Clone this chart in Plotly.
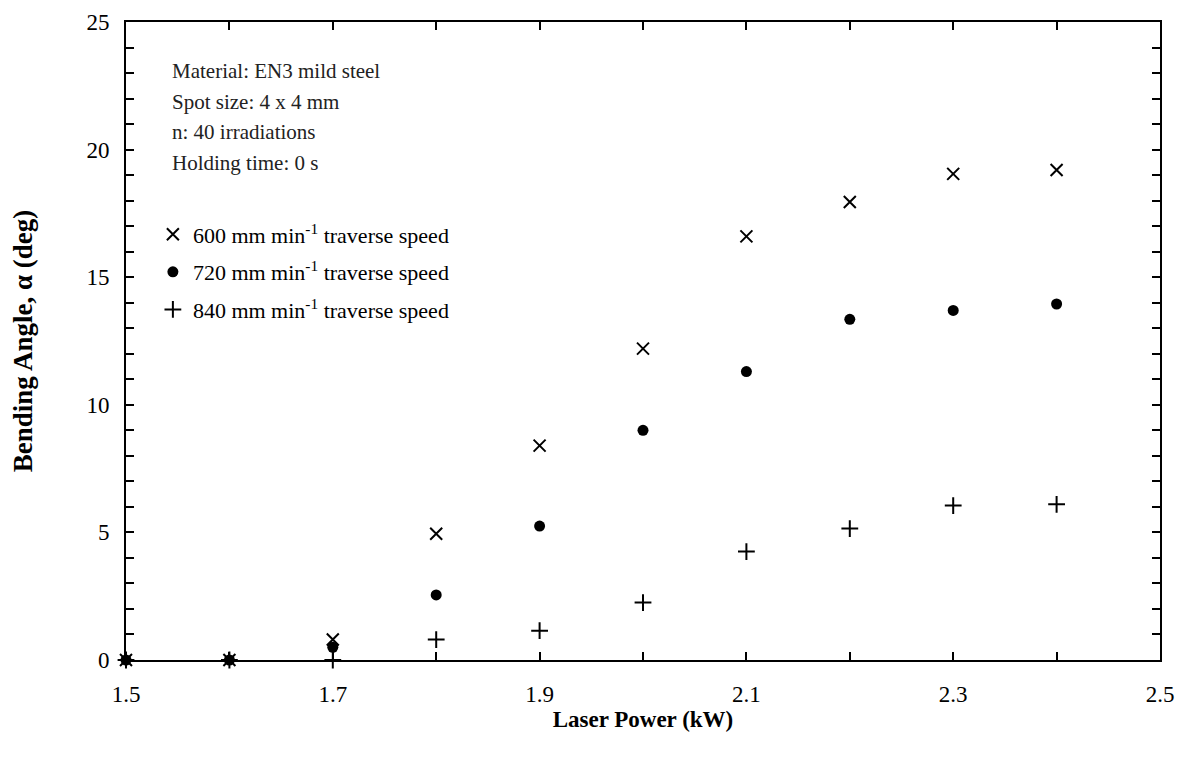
import plotly.graph_objects as go

power = [1.5, 1.6, 1.7, 1.8, 1.9, 2.0, 2.1, 2.2, 2.3, 2.4]
angle_600 = [0.0, 0.0, 0.8, 4.95, 8.4, 12.2, 16.6, 17.95, 19.05, 19.2]
angle_720 = [0.0, 0.0, 0.5, 2.55, 5.25, 9.0, 11.3, 13.35, 13.7, 13.95]
angle_840 = [0.0, 0.0, 0.0, 0.8, 1.15, 2.25, 4.25, 5.15, 6.05, 6.1]

x_ticks = [1.5, 1.7, 1.9, 2.1, 2.3, 2.5]
y_ticks = [0, 5, 10, 15, 20, 25]
notes = ["Material: EN3 mild steel", "Spot size: 4 x 4 mm", "n: 40 irradiations", "Holding time: 0 s"]

serif = "Liberation Serif, Times New Roman, serif"

fig = go.Figure()
fig.add_trace(go.Scatter(x=power, y=angle_600, mode="markers", legendgroup="a", cliponaxis=False,
                         name="600 mm min<sup>-1</sup> traverse speed",
                         marker=dict(symbol="x-thin-open", size=12, color="black",
                                     line=dict(width=2, color="black"))))
fig.add_trace(go.Scatter(x=power, y=angle_720, mode="markers", legendgroup="b", cliponaxis=False,
                         name="720 mm min<sup>-1</sup> traverse speed",
                         marker=dict(symbol="circle", size=11, color="black")))
fig.add_trace(go.Scatter(x=power, y=angle_840, mode="markers", legendgroup="c", cliponaxis=False,
                         name="840 mm min<sup>-1</sup> traverse speed",
                         marker=dict(symbol="cross-thin-open", size=12, color="black",
                                     line=dict(width=2, color="black"))))

for i, t in enumerate(notes):
    fig.add_annotation(x=0.043, y=0.923 - i * 0.0478, xref="paper", yref="paper",
                       text=t, showarrow=False, xanchor="left", yanchor="middle",
                       font=dict(family=serif, size=21, color="#222"))

axis_common = dict(showline=True, linewidth=2, linecolor="black", mirror="ticks",
                   ticks="inside", ticklen=8, tickwidth=2, tickcolor="black",
                   showgrid=False, zeroline=False, automargin=False,
                   tickfont=dict(family=serif, size=23, color="black"))

fig.update_xaxes(range=[1.5, 2.5], tickvals=x_ticks, ticktext=[str(v) for v in x_ticks],
                 minor=dict(dtick=0.1, tick0=1.5, ticks="inside", ticklen=8, tickwidth=2,
                            tickcolor="black", showgrid=False),
                 title=dict(text="<b>Laser Power (kW)</b>", standoff=5,
                            font=dict(family=serif, size=23, color="black")),
                 ticklabelstandoff=12, **axis_common)
fig.update_yaxes(range=[0, 25], tickvals=y_ticks, ticktext=[str(v) for v in y_ticks],
                 minor=dict(dtick=1, tick0=0, ticks="inside", ticklen=8, tickwidth=2,
                            tickcolor="black", showgrid=False),
                 title=dict(text="<b>Bending Angle, α (deg)</b>", standoff=54,
                            font=dict(family=serif, size=27, color="black")),
                 ticklabelstandoff=10, **axis_common)

fig.update_layout(
    width=1168, height=749,
    margin=dict(l=118, r=16, t=14, b=97),
    plot_bgcolor="white", paper_bgcolor="white",
    showlegend=True,
    legend=dict(x=0.026, y=0.7, xanchor="left", yanchor="top",
                font=dict(family=serif, size=22, color="black"),
                bgcolor="rgba(0,0,0,0)", itemwidth=30, tracegroupgap=6),
)

fig.write_html("out.html")
